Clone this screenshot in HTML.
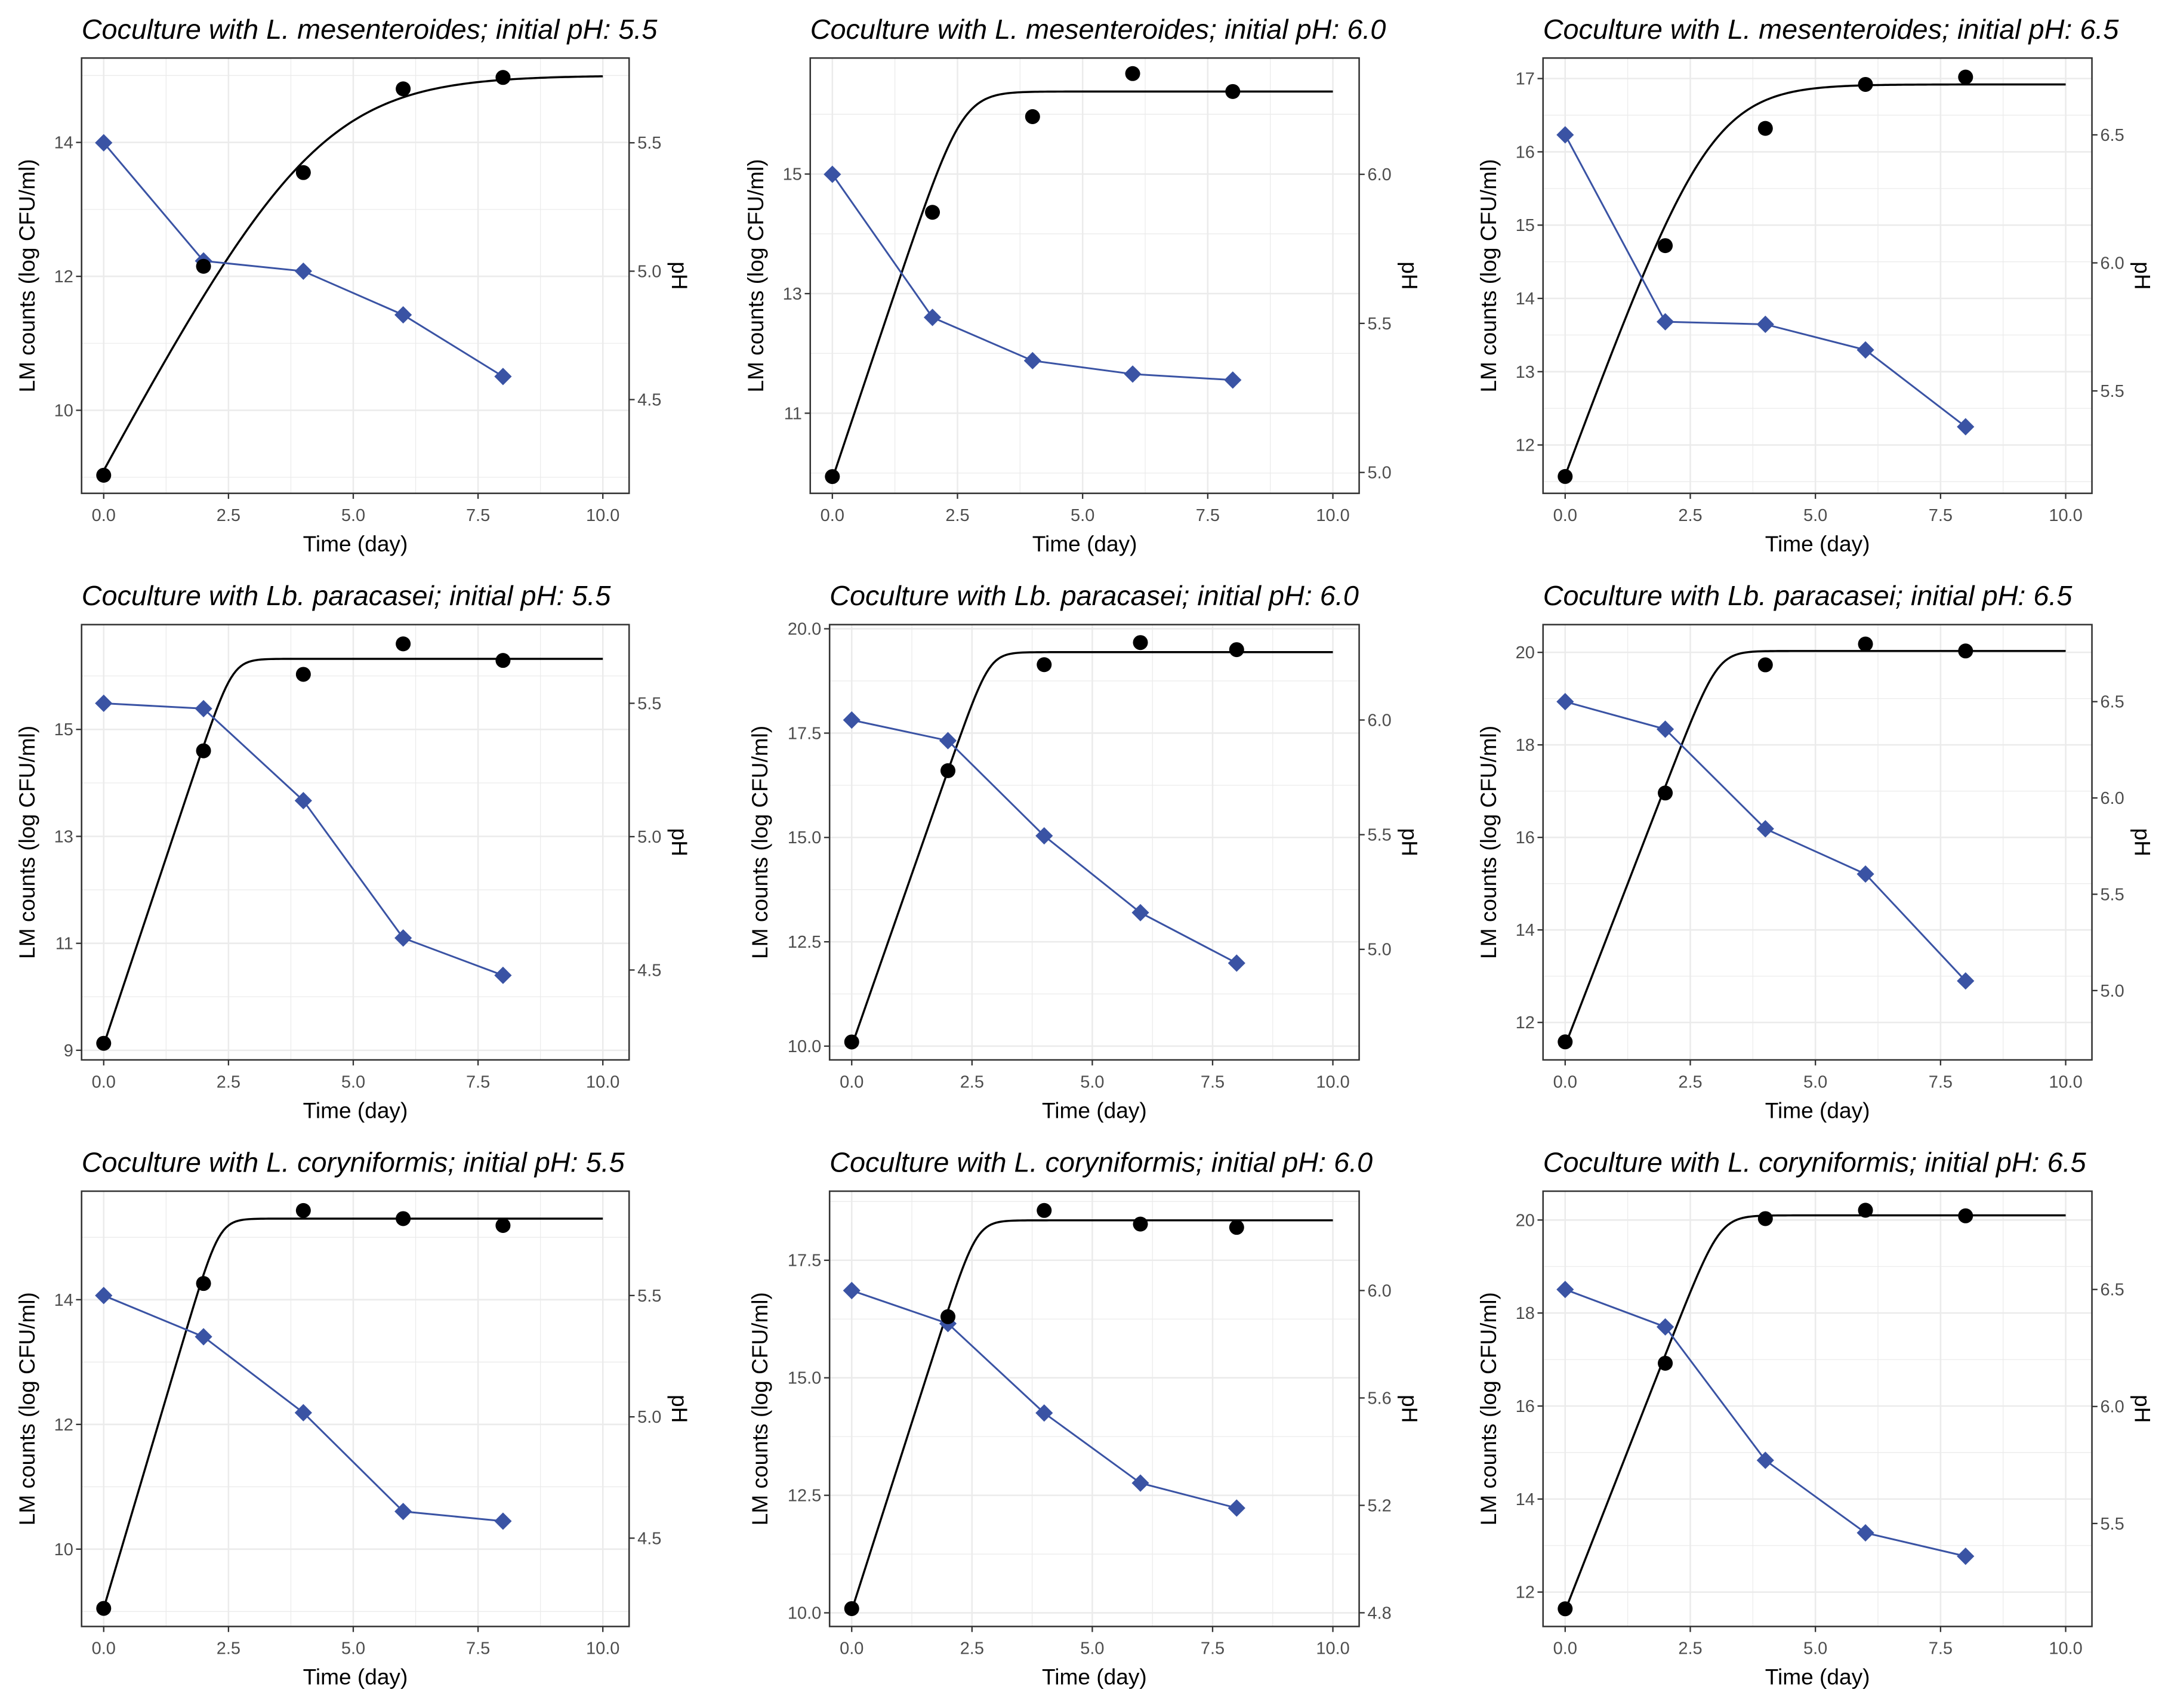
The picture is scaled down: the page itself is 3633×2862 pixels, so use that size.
<!DOCTYPE html>
<html><head><meta charset="utf-8"><style>
html,body{margin:0;padding:0;background:#fff;}
svg{display:block;}
text{font-family:"Liberation Sans",Arial,sans-serif;}
</style></head><body>
<svg id="chart" xmlns="http://www.w3.org/2000/svg" width="3633" height="2862" viewBox="0 0 1568 1236" preserveAspectRatio="none"></svg>
<script>
// ---- data ----
const times = [0, 2, 4, 6, 8];
const titles = [
 "Coculture with L. mesenteroides; initial pH: 5.5",
 "Coculture with L. mesenteroides; initial pH: 6.0",
 "Coculture with L. mesenteroides; initial pH: 6.5",
 "Coculture with Lb. paracasei; initial pH: 5.5",
 "Coculture with Lb. paracasei; initial pH: 6.0",
 "Coculture with Lb. paracasei; initial pH: 6.5",
 "Coculture with L. coryniformis; initial pH: 5.5",
 "Coculture with L. coryniformis; initial pH: 6.0",
 "Coculture with L. coryniformis; initial pH: 6.5"
];
const lm1 = [9.03, 12.15, 13.55, 14.8, 14.97];
const lm2 = [9.94, 14.36, 15.96, 16.68, 16.38];
const lm3 = [11.57, 14.72, 16.32, 16.92, 17.02];
const lm4 = [9.13, 14.6, 16.03, 16.6, 16.29];
const lm5 = [10.1, 16.6, 19.14, 19.67, 19.5];
const lm6 = [11.58, 16.96, 19.73, 20.18, 20.03];
const lm7 = [9.05, 14.26, 15.43, 15.3, 15.19];
const lm8 = [10.09, 16.3, 18.56, 18.27, 18.2];
const lm9 = [11.64, 16.92, 20.03, 20.21, 20.09];
const ph1 = [5.5, 5.04, 5.0, 4.83, 4.59];
const ph2 = [6.0, 5.52, 5.375, 5.33, 5.31];
const ph3 = [6.5, 5.77, 5.76, 5.66, 5.36];
const ph4 = [5.5, 5.48, 5.135, 4.62, 4.48];
const ph5 = [6.0, 5.91, 5.495, 5.16, 4.94];
const ph6 = [6.5, 6.357, 5.84, 5.605, 5.05];
const ph7 = [5.5, 5.33, 5.017, 4.61, 4.57];
const ph8 = [6.0, 5.877, 5.544, 5.283, 5.19];
const ph9 = [6.5, 6.34, 5.77, 5.46, 5.36];
// fitted growth curve parameters: y0, ymax, mu, sharpness
const fitY0 = [9.15, 9.9, 11.6, 9.1, 10.0, 11.5, 9.05, 10.05, 11.6];
const fitYmax = [15.0, 16.38, 16.92, 16.32, 19.44, 20.03, 15.3, 18.35, 20.1];
const fitMu = [1.4, 2.5, 1.85, 2.8, 3.3, 2.8, 2.7, 3.2, 2.75];
const fitSharp = [0.6, 1.4, 0.8, 2.2, 1.8, 1.8, 2.4, 1.8, 1.8];
// axis domains and ticks
const leftMin = [8.76, 9.66, 11.34, 8.82, 9.67, 11.19, 8.76, 9.71, 11.26];
const leftMax = [15.26, 16.94, 17.28, 16.96, 20.1, 20.6, 15.74, 18.97, 20.62];
const rightMin = [4.135, 4.93, 5.10, 4.163, 4.518, 4.64, 4.136, 4.749, 5.06];
const rightMax = [5.83, 6.39, 6.80, 5.795, 6.416, 6.90, 5.93, 6.37, 6.92];
const leftTicks = [
 ["10","12","14"], ["11","13","15"], ["12","13","14","15","16","17"],
 ["9","11","13","15"], ["10.0","12.5","15.0","17.5","20.0"], ["12","14","16","18","20"],
 ["10","12","14"], ["10.0","12.5","15.0","17.5"], ["12","14","16","18","20"]
];
const rightTicks = [
 ["4.5","5.0","5.5"], ["5.0","5.5","6.0"], ["5.5","6.0","6.5"],
 ["4.5","5.0","5.5"], ["5.0","5.5","6.0"], ["5.0","5.5","6.0","6.5"],
 ["4.5","5.0","5.5"], ["4.8","5.2","5.6","6.0"], ["5.5","6.0","6.5"]
];
const xTicks = ["0.0","2.5","5.0","7.5","10.0"];
const lmSeries = [lm1, lm2, lm3, lm4, lm5, lm6, lm7, lm8, lm9];
const phSeries = [ph1, ph2, ph3, ph4, ph5, ph6, ph7, ph8, ph9];

// ---- layout ----
const colLeft = [[59,586,1116],[59,600,1116],[59,600,1116]];
const colRight = [455, 983, 1513];
const rowTop = [42, 452, 862];
const rowH = 315;
const NS = "http://www.w3.org/2000/svg";
const svg = document.getElementById("chart");
function mk(tag, attrs, parent) {
  const e = document.createElementNS(NS, tag);
  for (const k in attrs) e.setAttribute(k, attrs[k]);
  (parent || svg).appendChild(e);
  return e;
}
for (let i = 0; i < 9; i++) {
  const r = Math.floor(i / 3), c = i % 3;
  const L = colLeft[r][c], R = colRight[c], T = rowTop[r], B = T + rowH;
  const W = R - L;
  const x0 = L + 16, x10 = R - 19;
  const xs = v => x0 + (x10 - x0) * v / 10;
  const ys = v => B - (v - leftMin[i]) / (leftMax[i] - leftMin[i]) * rowH;
  const yr = v => B - (v - rightMin[i]) / (rightMax[i] - rightMin[i]) * rowH;
  const g = mk("g", {});
  
  

  const title = mk("text", {x: L, y: T - 14, "font-size": 20.2, "font-style": "italic", fill: "#000"}, g);
  title.textContent = titles[i];
  
  

  // grid
  const lt = leftTicks[i].map(Number);
  const step = lt.length > 1 ? lt[1] - lt[0] : 1;
  for (let v = lt[0] - step / 2; v <= leftMax[i]; v += step / 2) {
    if (v < leftMin[i]) continue;
    const major = Math.abs((v - lt[0]) / step - Math.round((v - lt[0]) / step)) < 1e-6;
    const gl = mk("line", {x1: L, x2: R, y1: ys(v), y2: ys(v), stroke: "#ebebeb", "stroke-width": major ? 1.1 : 0.55}, g);
    
    
  }
  for (let v = -1.25; v <= 10.6; v += 1.25) {
    if (xs(v) < L) continue;
    const major = Math.abs(v / 2.5 - Math.round(v / 2.5)) < 1e-6;
    const gl = mk("line", {x1: xs(v), x2: xs(v), y1: T, y2: B, stroke: "#ebebeb", "stroke-width": major ? 1.1 : 0.55}, g);
    
    
  }
  // ticks and labels
  leftTicks[i].forEach(t => {
    const y = ys(Number(t));
    mk("line", {x1: L - 4, x2: L, y1: y, y2: y, stroke: "#333", "stroke-width": 1}, g);
    const tx = mk("text", {x: L - 6, y: y + 4.3, "font-size": 12.5, fill: "#4d4d4d", "text-anchor": "end"}, g);
    tx.textContent = t;
    
    
  });
  rightTicks[i].forEach(t => {
    const y = yr(Number(t));
    mk("line", {x1: R, x2: R + 4, y1: y, y2: y, stroke: "#333", "stroke-width": 1}, g);
    const tx = mk("text", {x: R + 6, y: y + 4.3, "font-size": 12.5, fill: "#4d4d4d"}, g);
    tx.textContent = t;
    
    
  });
  xTicks.forEach(t => {
    const x = xs(Number(t));
    mk("line", {x1: x, x2: x, y1: B, y2: B + 4, stroke: "#333", "stroke-width": 1}, g);
    const tx = mk("text", {x: x, y: B + 20, "font-size": 12.5, fill: "#4d4d4d", "text-anchor": "middle"}, g);
    tx.textContent = t;
    
    
  });
  // axis titles
  const xt = mk("text", {x: (L + R) / 2, y: B + 42, "font-size": 16, fill: "#000", "text-anchor": "middle"}, g);
  xt.textContent = "Time (day)";
  
  
  const ylx = L - (i === 4 || i === 7 ? 50 : 39);
  const yt = mk("text", {x: 0, y: 0, "font-size": 16, fill: "#000", "text-anchor": "middle", transform: `translate(${ylx + 5},${(T + B) / 2}) rotate(-90)`}, g);
  yt.textContent = "LM counts (log CFU/ml)";
  
  
  const rt = mk("text", {x: 0, y: 0, "font-size": 16, fill: "#000", "text-anchor": "middle", transform: `translate(${R + 31},${(T + B) / 2}) rotate(90)`}, g);
  rt.textContent = "pH";
  
  

  // fitted curve
  let d = "";
  for (let k = 0; k <= 200; k++) {
    const t = 10 * k / 200;
    const a = fitSharp[i];
    const diff = fitYmax[i] - (fitY0[i] + fitMu[i] * t);
    const sp = Math.log(1 + Math.exp(a * diff)) / a;
    const y = fitYmax[i] - sp;
    d += (k ? "L" : "M") + xs(t).toFixed(2) + "," + ys(y).toFixed(2);
  }
  const curve = mk("path", {d: d, fill: "none", stroke: "#000", "stroke-width": 1.5}, g);
  
  

  // pH line
  const phPts = times.map((t, k) => xs(t) + "," + yr(phSeries[i][k])).join(" ");
  const pl = mk("polyline", {points: phPts, fill: "none", stroke: "#3a53a4", "stroke-width": 1.3}, g);
  
  
  times.forEach((t, k) => {
    const x = xs(t), y = yr(phSeries[i][k]), s = 6.3;
    const dm = mk("polygon", {points: `${x},${y - s} ${x + s},${y} ${x},${y + s} ${x - s},${y}`, fill: "#3a53a4"}, g);
    
    
  });
  times.forEach((t, k) => {
    const cp = mk("circle", {cx: xs(t), cy: ys(lmSeries[i][k]), r: 5.4, fill: "#000"}, g);
    
    
  });
  // border
  const bd = mk("rect", {x: L, y: T, width: W, height: rowH, fill: "none", stroke: "#333", "stroke-width": 1.1}, g);
  
  
}
</script>
</body></html>
